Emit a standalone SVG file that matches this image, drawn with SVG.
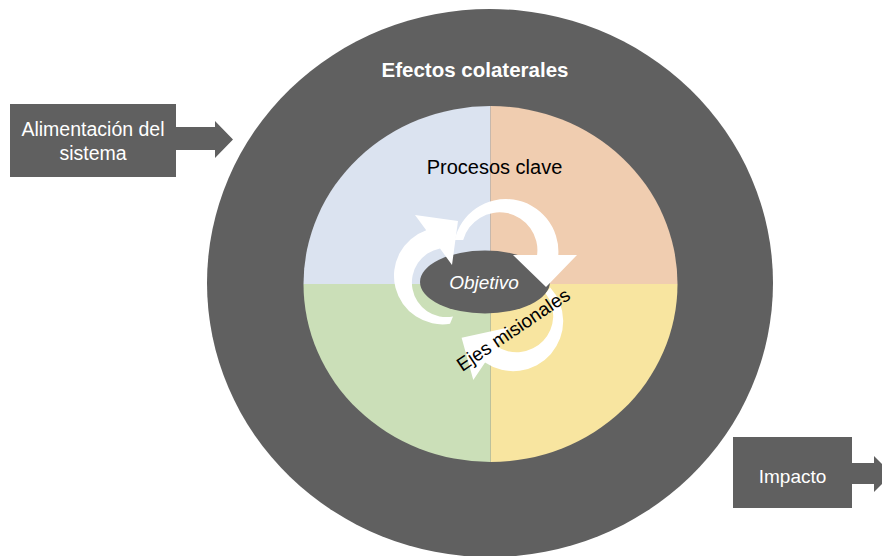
<svg xmlns="http://www.w3.org/2000/svg" width="882" height="556" viewBox="0 0 882 556">
<style>
 text { font-family: "Liberation Sans", Arial, sans-serif; }
 .dark { fill: #606060; }
 .wtxt { fill: #ffffff; }
 .cyc { fill: #ffffff; }
</style>
<rect width="882" height="556" fill="#ffffff"/>
<g id="efectos-colaterales">
 <ellipse cx="490" cy="283" rx="283" ry="274" class="dark"/>
 <text x="475" y="77" font-size="20.5" font-weight="bold" text-anchor="middle" class="wtxt">Efectos colaterales</text>
</g>
<g id="procesos-clave">
 <path d="M490.5,284 L303.5,284 A187,178 0 0 1 490.5,106 Z" fill="#DBE3F0"/>
 <path d="M490.5,284 L490.5,106 A187,178 0 0 1 677.5,284 Z" fill="#F0CDB0"/>
 <path d="M490.5,284 L677.5,284 A187,178 0 0 1 490.5,462 Z" fill="#F8E5A0"/>
 <path d="M490.5,284 L490.5,462 A187,178 0 0 1 303.5,284 Z" fill="#CBDFB8"/>
 <text x="494.5" y="173.5" font-size="20" text-anchor="middle" fill="#000000">Procesos clave</text>
</g>
<g id="objetivo">
 <ellipse cx="485" cy="282" rx="65" ry="31.5" class="dark"/>
 <text x="484" y="288.5" font-size="19" font-style="italic" text-anchor="middle" class="wtxt">Objetivo</text>
</g>
<g id="connectors">
 <path class="cyc" d="M454.7,240 A52.5,52.5 0 0 1 558.3,255 L577,255 L546,287 L513,255 L537.1,255 A37.8,37.8 0 0 0 463.2,240 Z"/>
 <path class="cyc" d="M450,323.8 A48.5,48.5 0 0 1 426.2,230.2 L415,215 L458,221 L452,265 L440,248.5 A34.5,34.5 0 0 0 453,316.5 Z"/>
 <path class="cyc" d="M550.2,287.5 A50,50 0 0 1 485.05,362.45 L473.3,379.9 L461.6,337.7 L508.5,327.6 L496.2,345.9 A36.5,36.5 0 0 0 545.6,293.4 Z"/>
</g>
<g id="ejes-misionales">
 <text x="517" y="335" font-size="19" text-anchor="middle" fill="#000000" transform="rotate(-34 517 335)">Ejes misionales</text>
</g>
<g id="alimentacion">
 <path class="dark" d="M10,104 H176 V127 H215 V121 L233,139.5 L215,158 V150 H176 V177 H10 Z"/>
 <text x="93" y="136" font-size="19.5" text-anchor="middle" class="wtxt">Alimentación del</text>
 <text x="93" y="160" font-size="19.5" text-anchor="middle" class="wtxt">sistema</text>
</g>
<g id="impacto">
 <path class="dark" d="M733,437 H852 V463 H874 V456 L892,474 L874,492 V484 H852 V508 H733 Z"/>
 <text x="792.5" y="482.5" font-size="19" text-anchor="middle" class="wtxt">Impacto</text>
</g>
</svg>
